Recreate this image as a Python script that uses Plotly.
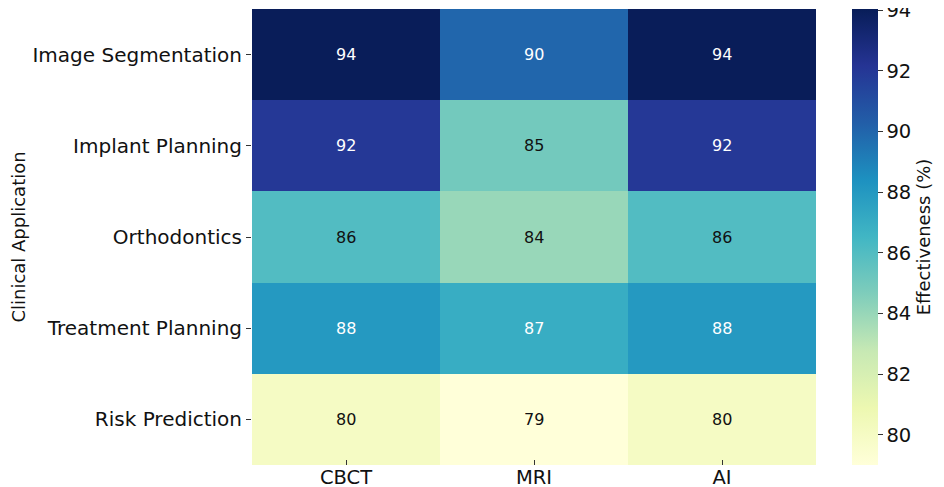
import plotly.graph_objects as go

modalities = ["CBCT", "MRI", "AI"]
applications = ["Image Segmentation", "Implant Planning", "Orthodontics",
                "Treatment Planning", "Risk Prediction"]
cbct = [94, 92, 86, 88, 80]
mri = [90, 85, 84, 87, 79]
ai = [94, 92, 86, 88, 80]
cbar_ticks = [80, 82, 84, 86, 88, 90, 92, 94]

z = [[cbct[i], mri[i], ai[i]] for i in range(len(applications))]

ylgnbu = ["#ffffd9", "#edf8b1", "#c7e9b4", "#7fcdbb", "#41b6c4",
          "#1d91c0", "#225ea8", "#253494", "#081d58"]
colorscale = [[i / (len(ylgnbu) - 1), c] for i, c in enumerate(ylgnbu)]

FONT = "DejaVu Sans"

fig = go.Figure(go.Heatmap(
    z=z, x=modalities, y=applications,
    colorscale=colorscale, zmin=79, zmax=94.04,
    xgap=0, ygap=0,
    colorbar=dict(
        thickness=26, len=1, lenmode="fraction", x=1.064, xanchor="left",
        y=0.5, yanchor="middle", outlinewidth=0, xpad=0, ypad=0,
        tickvals=cbar_ticks, ticks="outside", ticklen=5, tickcolor="#333",
        ticklabeloverflow="allow",
        tickfont=dict(family=FONT, size=19.5, color="#111"),
        title=dict(text="Effectiveness (%)", side="right",
                   font=dict(family=FONT, size=18, color="#111")),
    ),
    hoverongaps=False,
))

for i, app in enumerate(applications):
    for j, mod in enumerate(modalities):
        v = z[i][j]
        fig.add_annotation(x=mod, y=app, text=str(v), showarrow=False,
                           font=dict(family=FONT, size=16,
                                     color="white" if v >= 87 else "#111"))

# page body has an 8px margin, so the figure is sized to fit the window
fig.update_layout(
    width=936, height=479,
    margin=dict(l=244, r=128, t=1, b=22),
    paper_bgcolor="white", plot_bgcolor="white",
    font=dict(family=FONT, color="#111"),
)
fig.update_xaxes(ticks="inside", ticklen=5, tickcolor="#333", showgrid=False,
                 zeroline=False, showline=False, automargin=False,
                 ticklabelstandoff=-2,
                 tickfont=dict(family=FONT, size=19.5, color="#111"))
fig.update_yaxes(autorange="reversed", ticks="outside", ticklen=5,
                 tickcolor="#333", showgrid=False, zeroline=False,
                 showline=False, automargin=False,
                 tickfont=dict(family=FONT, size=20, color="#111"),
                 title=dict(text="Clinical Application", standoff=15,
                            font=dict(family=FONT, size=18, color="#111")))

fig.write_html("out.html")
